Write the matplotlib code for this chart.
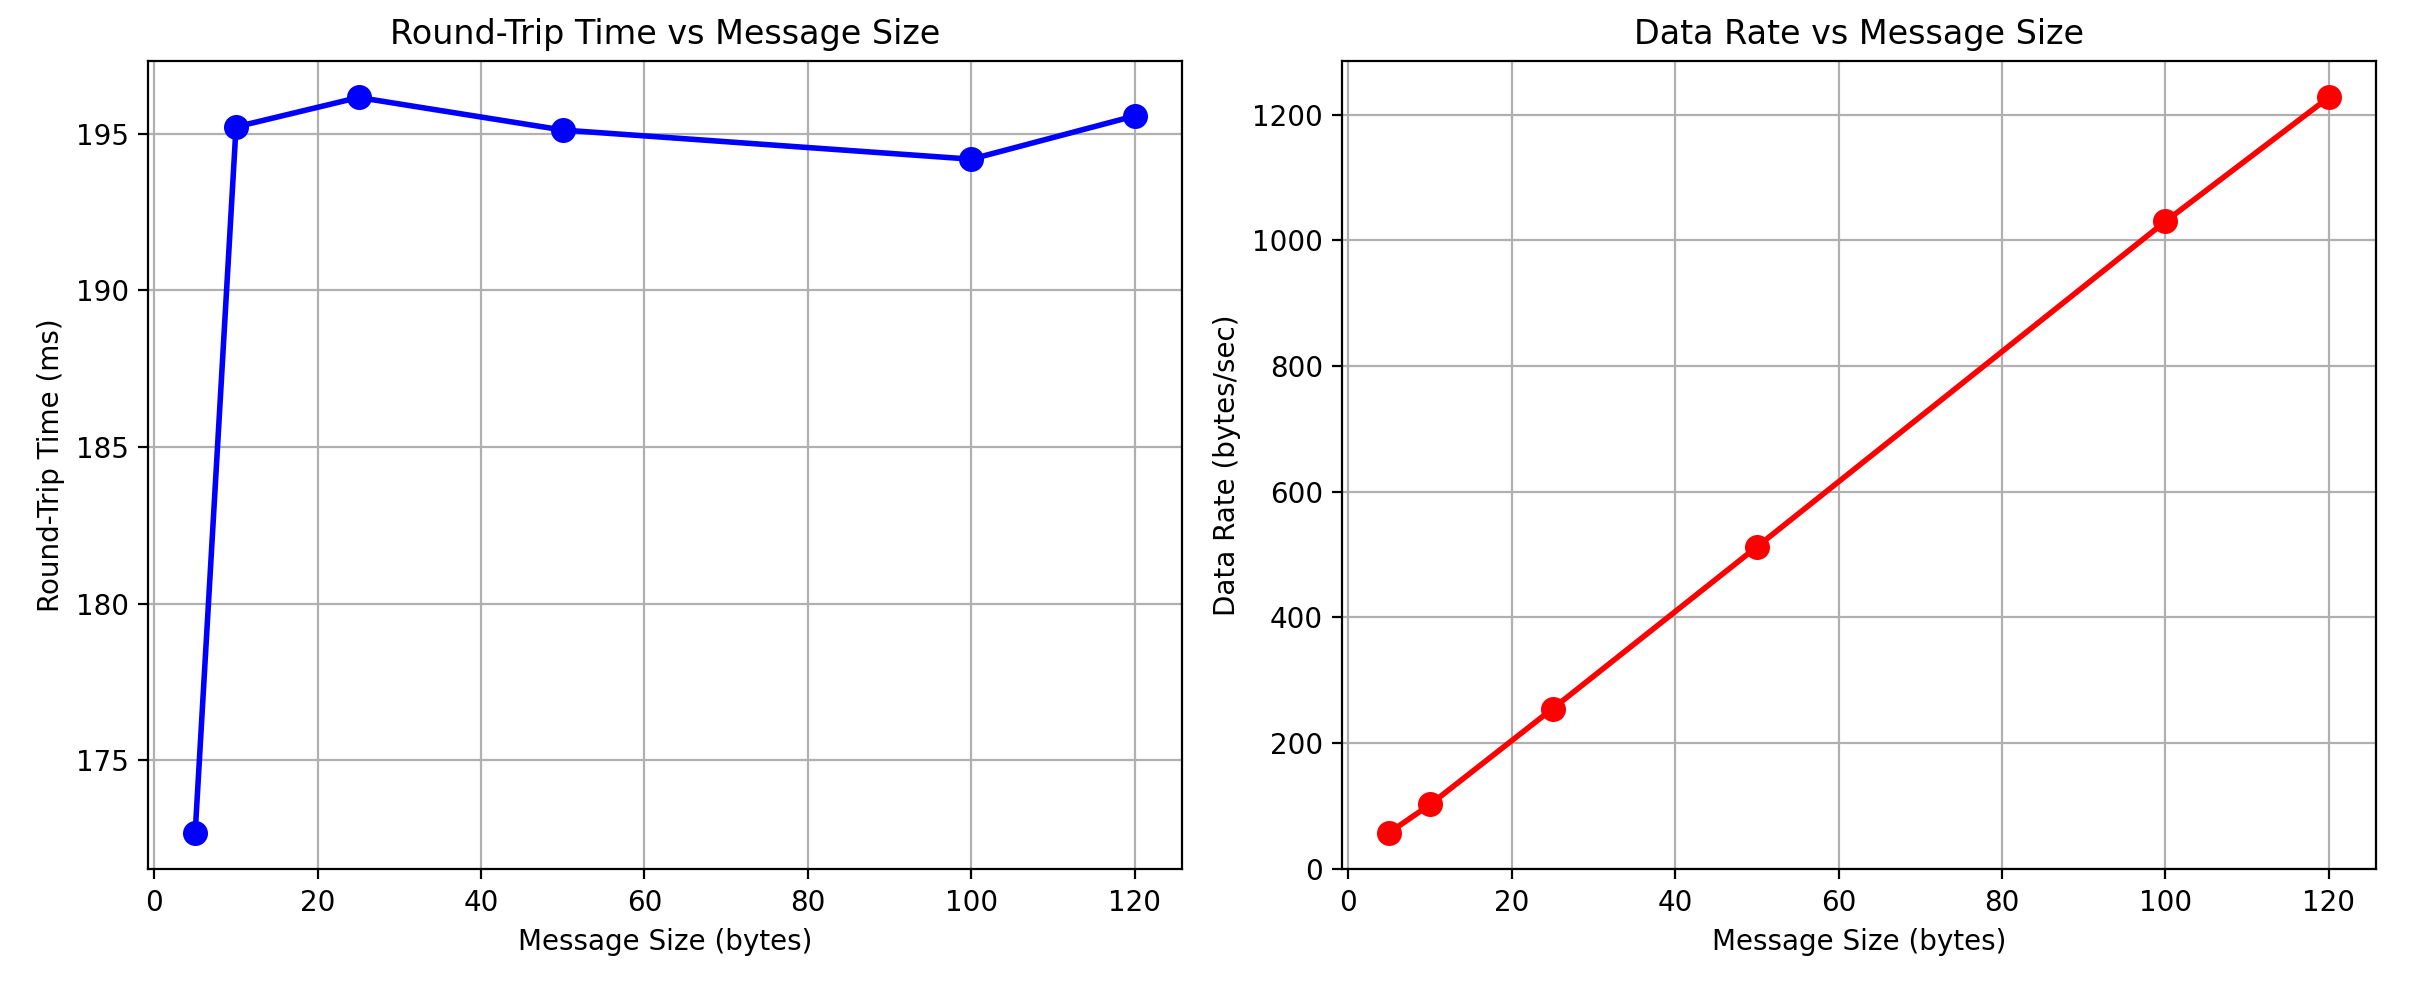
import matplotlib
matplotlib.use('Agg')
import matplotlib.pyplot as plt

# message sizes (bytes) and measured results
sizes = [5, 10, 25, 50, 100, 120]
rtt_ms = [172.7, 195.22, 196.16, 195.12, 194.19, 195.57]
rate_bps = [57.9, 102.5, 255.0, 512.4, 1029.9, 1227.2]

fig, (ax1, ax2) = plt.subplots(1, 2, figsize=(12.09, 4.92), dpi=200)
fig.subplots_adjust(left=0.0613, right=0.9825, top=0.9383, bottom=0.1166, wspace=0.1556)

# Round-trip time
ax1.plot(sizes, rtt_ms, 'b-o', linewidth=2, markersize=8)
ax1.set_xlabel('Message Size (bytes)')
ax1.set_ylabel('Round-Trip Time (ms)')
ax1.set_title('Round-Trip Time vs Message Size')
ax1.grid(True)

# Data rate
ax2.plot(sizes, rate_bps, 'r-o', linewidth=2, markersize=8)
ax2.set_xlabel('Message Size (bytes)')
ax2.set_ylabel('Data Rate (bytes/sec)')
ax2.set_title('Data Rate vs Message Size')
ax2.grid(True)

fig.savefig('out.png', dpi=200)
